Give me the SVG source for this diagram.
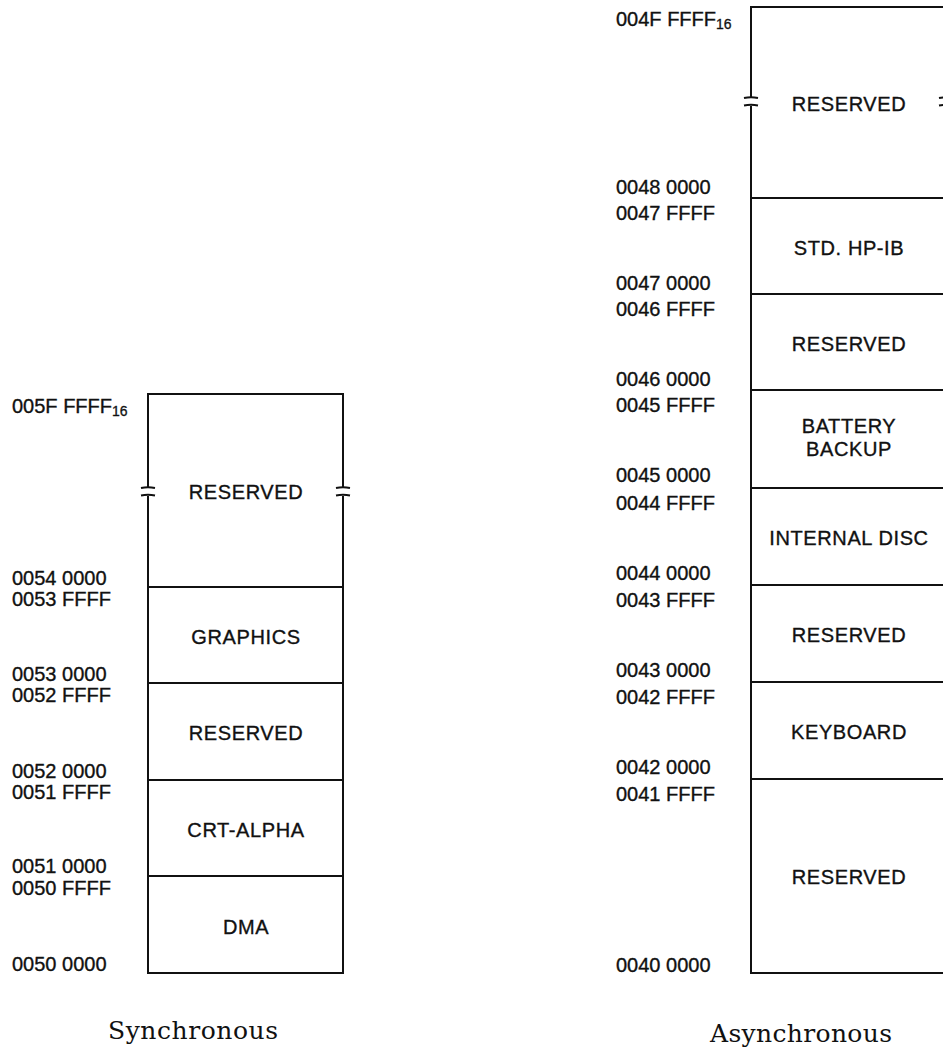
<svg xmlns="http://www.w3.org/2000/svg" width="943" height="1052" viewBox="0 0 943 1052">
<style>
.bx{fill:none;stroke:#111;stroke-width:2}
.tk{fill:none;stroke:#111;stroke-width:2}
.lbl{font-family:"Liberation Sans",Arial,sans-serif;font-size:20px;fill:#111;stroke:#111;stroke-width:0.35}
.sub{font-size:14px;stroke-width:0.3}
.sec{font-family:"Liberation Sans",Arial,sans-serif;font-size:20px;fill:#111;stroke:#111;stroke-width:0.35;text-anchor:middle;letter-spacing:0.6px}
.ttl{font-family:"DejaVu Serif","Liberation Serif",serif;font-size:25px;fill:#111;text-anchor:middle}
</style>
<rect width="943" height="1052" fill="#fff"/>
<g id="connectors"></g>

<!-- Synchronous -->
<g id="sync-reserved-top">
<path class="bx" d="M148,487 V394 H343 V487 M343,496 V587 H148 V496"/>
<path class="tk" d="M141,488 Q148,486.5 155,488 M141,495.5 Q148,494 155,495.5 M336,488 Q343,486.5 350,488 M336,495.5 Q343,494 350,495.5"/>
<text class="sec" x="246" y="499">RESERVED</text>
</g>
<g id="sync-graphics">
<rect class="bx" x="148" y="587" width="195" height="96"/>
<text class="sec" x="246" y="644">GRAPHICS</text>
</g>
<g id="sync-reserved">
<rect class="bx" x="148" y="683" width="195" height="97"/>
<text class="sec" x="246" y="740">RESERVED</text>
</g>
<g id="sync-crt-alpha">
<rect class="bx" x="148" y="780" width="195" height="96"/>
<text class="sec" x="246" y="837">CRT-ALPHA</text>
</g>
<g id="sync-dma">
<rect class="bx" x="148" y="876" width="195" height="97"/>
<text class="sec" x="246" y="934">DMA</text>
</g>
<g id="sync-labels">
<text class="lbl" x="12" y="413">005F FFFF<tspan class="sub" dy="3">16</tspan></text>
<text class="lbl" x="12" y="585">0054 0000</text>
<text class="lbl" x="12" y="606">0053 FFFF</text>
<text class="lbl" x="12" y="681">0053 0000</text>
<text class="lbl" x="12" y="702">0052 FFFF</text>
<text class="lbl" x="12" y="778">0052 0000</text>
<text class="lbl" x="12" y="799">0051 FFFF</text>
<text class="lbl" x="12" y="873">0051 0000</text>
<text class="lbl" x="12" y="895">0050 FFFF</text>
<text class="lbl" x="12" y="971">0050 0000</text>
</g>
<text class="ttl" x="193" y="1039" textLength="170">Synchronous</text>

<!-- Asynchronous -->
<g id="async-reserved-top">
<path class="bx" d="M751,97 V7 H946 V97 M946,106 V198 H751 V106"/>
<path class="tk" d="M744,98 Q751,96.5 758,98 M744,105.5 Q751,104 758,105.5 M939,98 Q946,96.5 953,98 M939,105.5 Q946,104 953,105.5"/>
<text class="sec" x="849" y="111">RESERVED</text>
</g>
<g id="async-std-hpib">
<rect class="bx" x="751" y="198" width="195" height="96"/>
<text class="sec" x="849" y="255">STD. HP-IB</text>
</g>
<g id="async-reserved-1">
<rect class="bx" x="751" y="294" width="195" height="96"/>
<text class="sec" x="849" y="351">RESERVED</text>
</g>
<g id="async-battery">
<rect class="bx" x="751" y="390" width="195" height="98"/>
<text class="sec" x="849" y="433">BATTERY</text>
<text class="sec" x="849" y="456">BACKUP</text>
</g>
<g id="async-internal-disc">
<rect class="bx" x="751" y="488" width="195" height="97"/>
<text class="sec" x="849" y="545">INTERNAL DISC</text>
</g>
<g id="async-reserved-2">
<rect class="bx" x="751" y="585" width="195" height="97"/>
<text class="sec" x="849" y="642">RESERVED</text>
</g>
<g id="async-keyboard">
<rect class="bx" x="751" y="682" width="195" height="97"/>
<text class="sec" x="849" y="739">KEYBOARD</text>
</g>
<g id="async-reserved-3">
<rect class="bx" x="751" y="779" width="195" height="194"/>
<text class="sec" x="849" y="884">RESERVED</text>
</g>
<g id="async-labels">
<text class="lbl" x="616" y="26">004F FFFF<tspan class="sub" dy="3">16</tspan></text>
<text class="lbl" x="616" y="194">0048 0000</text>
<text class="lbl" x="616" y="220">0047 FFFF</text>
<text class="lbl" x="616" y="290">0047 0000</text>
<text class="lbl" x="616" y="316">0046 FFFF</text>
<text class="lbl" x="616" y="386">0046 0000</text>
<text class="lbl" x="616" y="412">0045 FFFF</text>
<text class="lbl" x="616" y="482">0045 0000</text>
<text class="lbl" x="616" y="510">0044 FFFF</text>
<text class="lbl" x="616" y="580">0044 0000</text>
<text class="lbl" x="616" y="607">0043 FFFF</text>
<text class="lbl" x="616" y="677">0043 0000</text>
<text class="lbl" x="616" y="704">0042 FFFF</text>
<text class="lbl" x="616" y="774">0042 0000</text>
<text class="lbl" x="616" y="801">0041 FFFF</text>
<text class="lbl" x="616" y="972">0040 0000</text>
</g>
<text class="ttl" x="801" y="1042" textLength="182">Asynchronous</text>
</svg>
